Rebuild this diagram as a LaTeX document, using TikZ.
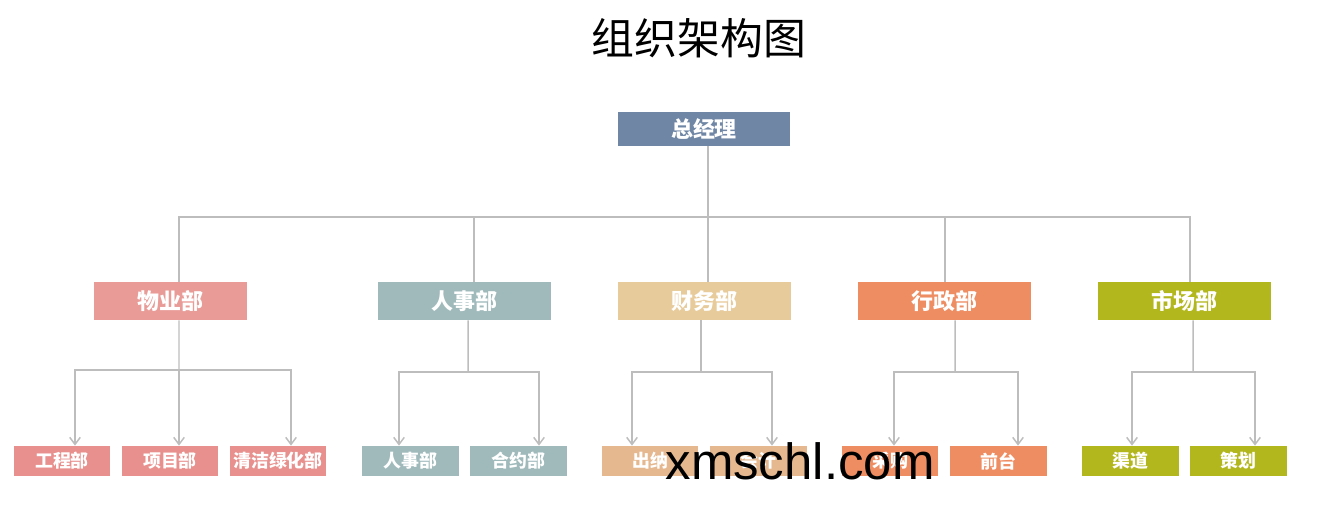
\documentclass[tikz,border=0pt]{standalone}
\usepackage{fontspec}
\setmainfont{Noto Sans CJK SC}
\newfontfamily\wmfont{Liberation Sans}
\usetikzlibrary{arrows.meta}
\definecolor{gmblue}{HTML}{6F86A5}
\definecolor{wypink}{HTML}{E89B97}
\definecolor{wypinkb}{HTML}{E8908D}
\definecolor{rsteal}{HTML}{A0BABC}
\definecolor{cwsand}{HTML}{E8CB9B}
\definecolor{cwsandb}{HTML}{E5B88F}
\definecolor{xzorange}{HTML}{EE8C62}
\definecolor{scolive}{HTML}{B3B71E}
\definecolor{linegray}{HTML}{BDBDBD}
\tikzset{%
	chiefbox/.style = {rectangle, fill=gmblue, text=white, inner sep=0pt,
		minimum width=3.44cm, minimum height=0.68cm, font=\bfseries\fontsize{12.5}{14}\selectfont},
	dept/.style     = {rectangle, text=white, inner sep=0pt,
		minimum width=3.46cm, minimum height=0.76cm, font=\bfseries\fontsize{12.5}{14}\selectfont},
	unitbox/.style  = {rectangle, text=white, inner sep=0pt,
		minimum width=1.94cm, minimum height=0.6cm, font=\bfseries\fontsize{10.2}{12}\selectfont},
	trunk/.style    = {draw=linegray, line width=1.1pt}, % upper lines
	branch/.style   = {draw=linegray, line width=0.85pt,
		-{Straight Barb[length=4pt,width=6pt]}} % lower arrows
}
\begin{document}
\begin{tikzpicture}[x=0.02cm,y=-0.02cm]
			\useasboundingbox (0,0) rectangle (1326,510);
			\node[font=\fontsize{24.4}{28}\selectfont] (title) at (699,38) {组织架构图};
			\node[chiefbox] (gm) at (704,129) {总经理};
			
			\node[dept,fill=wypink,minimum width=3.06cm] (wy) at (170.5,301) {物业部};
			\node[dept,fill=rsteal] (rs) at (464.5,301) {人事部};
			\node[dept,fill=cwsand] (cw) at (704.5,301) {财务部};
			\node[dept,fill=xzorange] (xz) at (944.5,301) {行政部};
			\node[dept,fill=scolive] (sc) at (1184.5,301) {市场部};
			
			\node[unitbox,fill=wypinkb] (gc) at (62,461) {工程部};
			\node[unitbox,fill=wypinkb] (xm) at (170,461) {项目部};
			\node[unitbox,fill=wypinkb] (qj) at (278,461) {清洁绿化部};
			\node[unitbox,fill=rsteal] (rsb) at (410.5,461) {人事部};
			\node[unitbox,fill=rsteal] (hy) at (518.5,461) {合约部};
			\node[unitbox,fill=cwsandb] (cn) at (650,461) {出纳};
			\node[unitbox,fill=cwsandb] (kj) at (758.5,461) {会计};
			\node[unitbox,fill=xzorange] (cg) at (890,461) {采购};
			\node[unitbox,fill=xzorange] (qt) at (998.5,461) {前台};
			\node[unitbox,fill=scolive] (qd) at (1130.5,461) {渠道};
			\node[unitbox,fill=scolive] (ch) at (1238.5,461) {策划};
			
			\coordinate (bus) at (708,217);
			\draw[trunk] (bus |- gm.south) -- (bus);
			\draw[trunk] ([shift={(8.5,0)}]wy.north) |- (bus) -| ([shift={(5.5,0)}]sc.north);
			\draw[trunk] ([shift={(9.5,0)}]rs.north) |- (bus);
			\draw[trunk] ([shift={(3.5,0)}]cw.north) |- (bus);
			\draw[trunk] ([shift={(0.5,0)}]xz.north) |- (bus);
			
			\coordinate (wyj) at (179,370);
			\draw[trunk,line width=0.85pt] ([shift={(8.5,0)}]wy.south) -- (wyj);
			\draw[branch] (wyj) -| ([shift={(13,0)}]gc.north);
			\draw[branch] (wyj) -- ([shift={(9,0)}]xm.north);
			\draw[branch] (wyj) -| ([shift={(13,0)}]qj.north);
			
			\coordinate (rsj) at (468,372);
			\draw[trunk,line width=0.85pt] ([shift={(3.5,0)}]rs.south) -- (rsj);
			\draw[branch] (rsj) -| ([shift={(-11.5,0)}]rsb.north);
			\draw[branch] (rsj) -| ([shift={(20.5,0)}]hy.north);
			
			\coordinate (cwj) at (701,372);
			\draw[trunk,line width=0.85pt] ([shift={(-3.5,0)}]cw.south) -- (cwj);
			\draw[branch] (cwj) -| ([shift={(-18,0)}]cn.north);
			\draw[branch] (cwj) -| ([shift={(13.5,0)}]kj.north);
			
			\coordinate (xzj) at (955,372);
			\draw[trunk,line width=0.85pt] ([shift={(10.5,0)}]xz.south) -- (xzj);
			\draw[branch] (xzj) -| ([shift={(4,0)}]cg.north);
			\draw[branch] (xzj) -| ([shift={(19.5,0)}]qt.north);
			
			\coordinate (scj) at (1193,372);
			\draw[trunk,line width=0.85pt] ([shift={(8.5,0)}]sc.south) -- (scj);
			\draw[branch] (scj) -| ([shift={(1.5,0)}]qd.north);
			\draw[branch] (scj) -| ([shift={(16.5,0)}]ch.north);
			
			\node[font=\wmfont\fontsize{29}{30}\selectfont,anchor=base] (wm) at (800,479) {xmschl.com};
		\end{tikzpicture}
\end{document}
